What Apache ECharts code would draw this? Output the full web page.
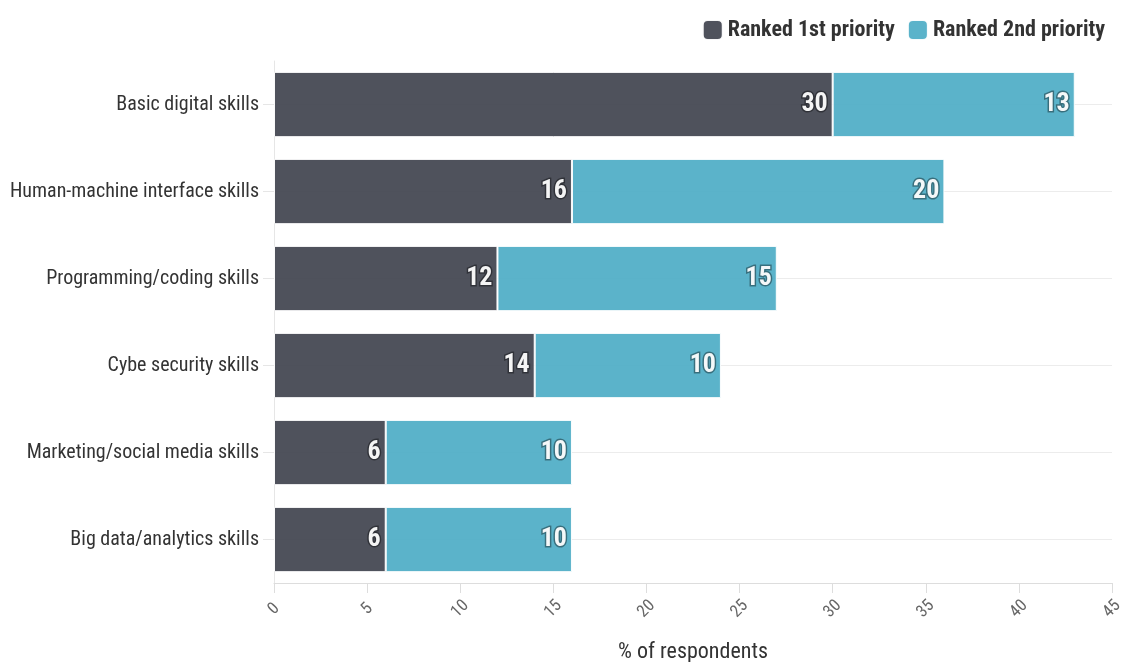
<!DOCTYPE html>
<html>
<head>
<meta charset="utf-8">
<script src="https://cdn.jsdelivr.net/npm/echarts@6/dist/echarts.min.js"></script>
<style>
  html, body { margin: 0; padding: 0; background: #fff; }
  #chart { width: 1125px; height: 662px; }
</style>
</head>
<body>
<div id="chart"></div>
<script>
var categories = ['Basic digital skills', 'Human-machine interface skills', 'Programming/coding skills',
  'Cybe security skills', 'Marketing/social media skills', 'Big data/analytics skills'];
var firstPriority = [30, 16, 12, 14, 6, 6];
var secondPriority = [13, 20, 15, 10, 10, 10];
var seriesNames = ['Ranked 1st priority', 'Ranked 2nd priority'];

var font = '"Roboto Condensed", "Liberation Sans Narrow", Roboto, sans-serif';

function setChart() {
  var myChart = echarts.init(document.getElementById('chart'));
  var barLabel = {
    show: true,
    position: 'insideRight',
    distance: 5,
    color: '#fff',
    fontFamily: font,
    fontWeight: 'bold',
    fontSize: 26,
    textBorderColor: 'rgba(0,0,0,0.4)',
    textBorderWidth: 3
  };
  var option = {
    animation: false,
    textStyle: { fontFamily: font },
    legend: {
      top: 14,
      right: 15,
      itemWidth: 20,
      itemHeight: 20,
      itemGap: 12,
      icon: 'roundRect',
      textStyle: { fontFamily: font, fontSize: 22, fontWeight: 'bold', color: '#333' },
      data: seriesNames
    },
    grid: { left: 274, right: 13, top: 61, bottom: 79, containLabel: false, outerBoundsMode: 'none' },
    xAxis: {
      type: 'value',
      min: 0,
      max: 45,
      interval: 5,
      name: '% of respondents',
      nameLocation: 'middle',
      nameGap: 58,
      nameTextStyle: { fontFamily: font, fontSize: 22, color: '#333' },
      axisLine: { show: true, lineStyle: { color: '#dddddd' } },
      axisTick: { show: true, length: 10, lineStyle: { color: '#dddddd' } },
      axisLabel: { rotate: 45, margin: 26, align: 'center', verticalAlign: 'middle',
        fontFamily: font, fontSize: 17, color: '#666' },
      splitLine: { show: false }
    },
    yAxis: {
      type: 'category',
      inverse: true,
      data: categories,
      axisLine: { show: true, lineStyle: { color: '#e6e6e6' } },
      axisTick: { show: true, alignWithLabel: true, length: 11, lineStyle: { color: '#e6e6e6' } },
      axisLabel: { margin: 15, fontFamily: font, fontSize: 20, color: '#333' },
      splitLine: { show: true, alignWithLabel: true, lineStyle: { color: '#ececec' } }
    },
    series: [
      {
        name: seriesNames[0],
        type: 'bar',
        stack: 'total',
        barCategoryGap: '25%',
        itemStyle: { color: '#464953', opacity: 0.95, borderColor: '#fff', borderWidth: 1 },
        label: barLabel,
        data: firstPriority
      },
      {
        name: seriesNames[1],
        type: 'bar',
        stack: 'total',
        barCategoryGap: '25%',
        itemStyle: { color: '#52afc7', opacity: 0.95, borderColor: '#fff', borderWidth: 1 },
        label: barLabel,
        data: secondPriority
      }
    ]
  };
  myChart.setOption(option);
}
setChart();
</script>
</body>
</html>
